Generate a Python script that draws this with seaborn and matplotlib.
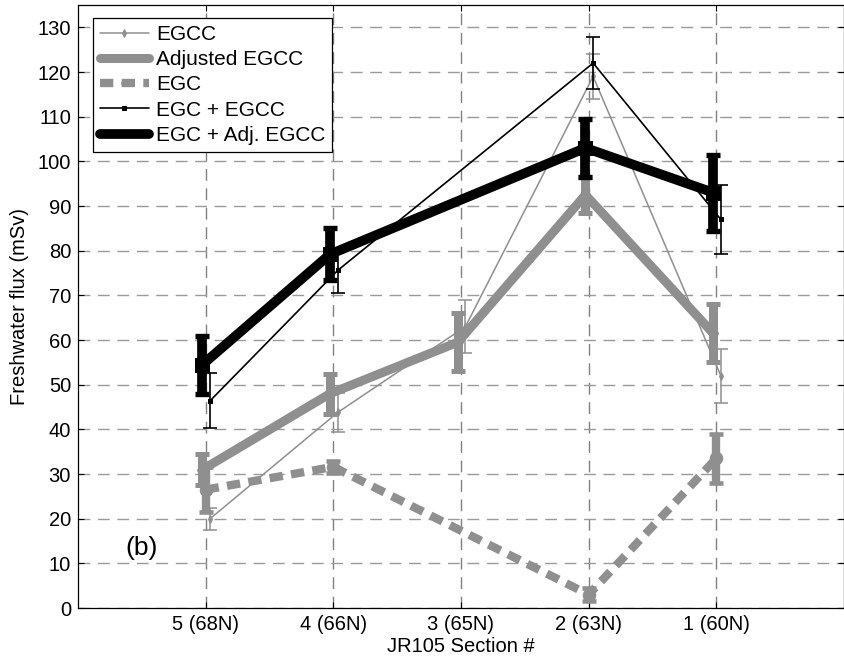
import numpy as np
import pandas as pd
import matplotlib
matplotlib.use("Agg")
import matplotlib.pyplot as plt
import seaborn as sns

# ---- data ----
sections = ['5 (68N)', '4 (66N)', '3 (65N)', '2 (63N)', '1 (60N)']
egcc = [20.0, 43.8, 63.0, 119.0, 52.0]
egcc_err = [2.5, 4.3, 6.0, 5.0, 6.0]
adj_egcc = [31.0, 48.0, 59.5, 92.5, 61.5]
adj_egcc_err = [3.5, 4.5, 6.5, 4.0, 6.5]
egc = [26.5, 31.6, np.nan, 3.0, 33.5]
egc_err = [5.0, 1.3, np.nan, 1.5, 5.5]
egc_egcc = [46.4, 75.6, np.nan, 122.0, 87.0]
egc_egcc_err = [6.2, 5.0, np.nan, 5.8, 7.7]
egc_adj = [54.5, 79.2, np.nan, 103.0, 93.0]
egc_adj_err = [6.5, 5.8, np.nan, 6.5, 8.5]

sns.set_style("ticks")
plt.rcParams['font.family'] = ['Liberation Sans', 'DejaVu Sans']
plt.rcParams['text.color'] = 'black'
plt.rcParams['axes.labelcolor'] = 'black'
plt.rcParams['xtick.color'] = 'black'
plt.rcParams['ytick.color'] = 'black'

GRAY = '#8f8f8f'
fig = plt.figure(figsize=(8.45, 6.62), dpi=100)
ax = fig.add_axes([78/845, 1-608/662, (844-78)/845, (608-5)/662])

pos = np.arange(1, len(sections) + 1)

series = [
    # label, values, errors, color, lw, marker, ms, linestyle, x offset
    ('EGCC', egcc, egcc_err, GRAY, 1.1, 'd', 4, '-', 0.035),
    ('Adjusted EGCC', adj_egcc, adj_egcc_err, GRAY, 6.5, 'd', 9, '-', -0.025),
    ('EGC', egc, egc_err, GRAY, 6.0, 'o', 9, (0, (1.6, 1.0)), 0.0),
    ('EGC + EGCC', egc_egcc, egc_egcc_err, 'black', 1.2, 's', 3.5, '-', 0.035),
    ('EGC + Adj. EGCC', egc_adj, egc_adj_err, 'black', 7.0, 's', 10, '-', -0.025),
]

for i, (lab, vals, errs, col, lw, mk, ms, ls, off) in enumerate(series):
    df = pd.DataFrame({'x': pos + off, 'y': vals, 'e': errs}).dropna()
    sns.lineplot(data=df, x='x', y='y', ax=ax, color=col, lw=lw, marker=mk,
                 markersize=ms, markeredgecolor=col, markerfacecolor=col,
                 linestyle=ls, zorder=3 + i, label=lab, legend=False,
                 errorbar=None, sort=False)
    thick = lw > 3
    ax.errorbar(df['x'], df['y'], yerr=df['e'], fmt='none', ecolor=col,
                elinewidth=lw, capsize=5 if thick else 5,
                capthick=lw * 0.55 if thick else lw, zorder=3 + i)

lines = [l for l in ax.lines if l.get_label() in [s[0] for s in series]]

ax.set_xlim(0, 6)
ax.set_ylim(0, 135)
ax.set_xticks(pos)
ax.set_xticklabels(sections)
ax.set_yticks(np.arange(0, 131, 10))
ax.tick_params(axis='both', which='both', direction='in', length=4,
               width=0.8, labelsize=14.5, top=True, right=True,
               color='black', labelcolor='black', pad=5)
for sp in ax.spines.values():
    sp.set_visible(True)
    sp.set_color('black')
    sp.set_linewidth(0.9)

ax.grid(True, axis='y', color='#9a9a9a', linestyle=(0, (8.5, 5.5)), linewidth=1.0, zorder=0)
ax.grid(True, axis='x', color='#808080', linestyle=(0, (8.5, 5.5)), linewidth=1.0, zorder=0)
ax.set_axisbelow(True)

ax.set_xlabel('JR105 Section #', fontsize=14.5, labelpad=2, color='black')
ax.set_ylabel('Freshwater flux (mSv)', fontsize=14.5, labelpad=6, color='black')

ax.text(0.5, 13.5, '(b)', fontsize=19, ha='center', va='center', color='black')

leg = ax.legend(handles=lines, labels=[l.get_label() for l in lines],
                loc='upper left', bbox_to_anchor=(0.0196, 0.978),
                fontsize=15, frameon=True, fancybox=False, shadow=False,
                borderaxespad=0, handlelength=2.35, handletextpad=0.35,
                labelspacing=0.3, borderpad=0.32, framealpha=1)
leg.get_frame().set_edgecolor('black')
leg.get_frame().set_linewidth(0.9)
leg.set_zorder(20)
for t in leg.get_texts():
    t.set_color('black')
for h in leg.legend_handles:
    h.set_markersize(min(h.get_markersize(), 4))

fig.savefig('out.png', dpi=100)
